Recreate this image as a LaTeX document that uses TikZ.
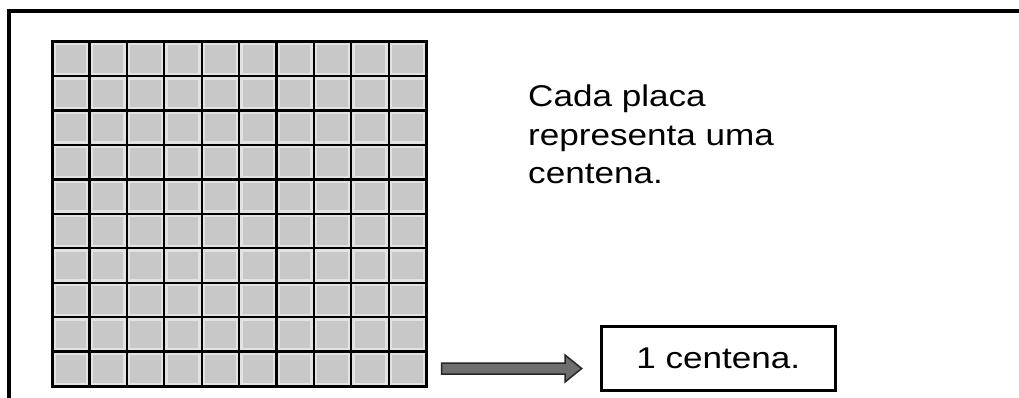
\documentclass[tikz,border=0pt]{standalone}
\usepackage{fontspec}
\setmainfont[FakeStretch=1.17]{Liberation Sans}
\usetikzlibrary{calc}
\definecolor{cellgray}{RGB}{200,200,200}
\definecolor{celledge}{RGB}{226,226,226}
\definecolor{arrowgray}{RGB}{110,110,110}
\tikzset{
  gridline/.style={line width=2.2pt, draw=black},
  labelbox/.style={draw=black, line width=3pt, minimum width=234pt, minimum height=64pt, inner sep=0pt, font=\fontsize{30}{38}\selectfont},
  desctext/.style={align=left, inner sep=0pt, anchor=north west, font=\fontsize{30}{38.3}\selectfont},
  blockarrow/.style={fill=arrowgray, draw=black!85, line width=1.5pt, line join=miter}
}
\begin{document}
\begin{tikzpicture}[x=1pt,y=-1pt]
\fill[white] (0,0) rectangle (1019,398);
\useasboundingbox (0,0) rectangle (1019,398);
% outer frame (continues beyond the picture at right and bottom)
\fill[black] (7.3,9.3) rectangle (1019,13.3);
\fill[black] (7.3,9.3) rectangle (11.3,398);
% plate
\node[inner sep=0pt, minimum width=374pt, minimum height=344.3pt, anchor=north west] (plate) at (52,41.7) {};
\foreach \i in {0,...,9}{
  \foreach \j in {0,...,9}{
    \fill[celledge] (52+\i*37.4,41.7+\j*34.43) rectangle ++(37.4,34.43);
    \fill[cellgray] (52+\i*37.4+3.5,41.7+\j*34.43+3.5) rectangle ++(30.4,27.43);
  }
}
\foreach \i in {1,...,9}{
  \draw[gridline] (52+\i*37.4,41.7) -- (52+\i*37.4,386);
  \draw[gridline] (52,41.7+\i*34.43) -- (426,41.7+\i*34.43);
}
\draw[line width=3pt] (plate.north west) rectangle (plate.south east);
% description text
\node[desctext] (desc) at (528,85) {Cada placa\\representa uma\\centena.};
% label box
\node[labelbox] (box) at (718.3,358.3) {1 centena.};
% arrow
\coordinate (arrS) at (441.7,368.5);
\coordinate (arrE) at (581.7,368.5);
\filldraw[blockarrow] ($(arrS)+(0,-5.5)$) -- ($(arrE)+(-16.7,-5.5)$) -- ($(arrE)+(-16.7,-13.5)$) -- (arrE) -- ($(arrE)+(-16.7,13.5)$) -- ($(arrE)+(-16.7,5.5)$) -- ($(arrS)+(0,5.5)$) -- cycle;
\end{tikzpicture}
\end{document}
